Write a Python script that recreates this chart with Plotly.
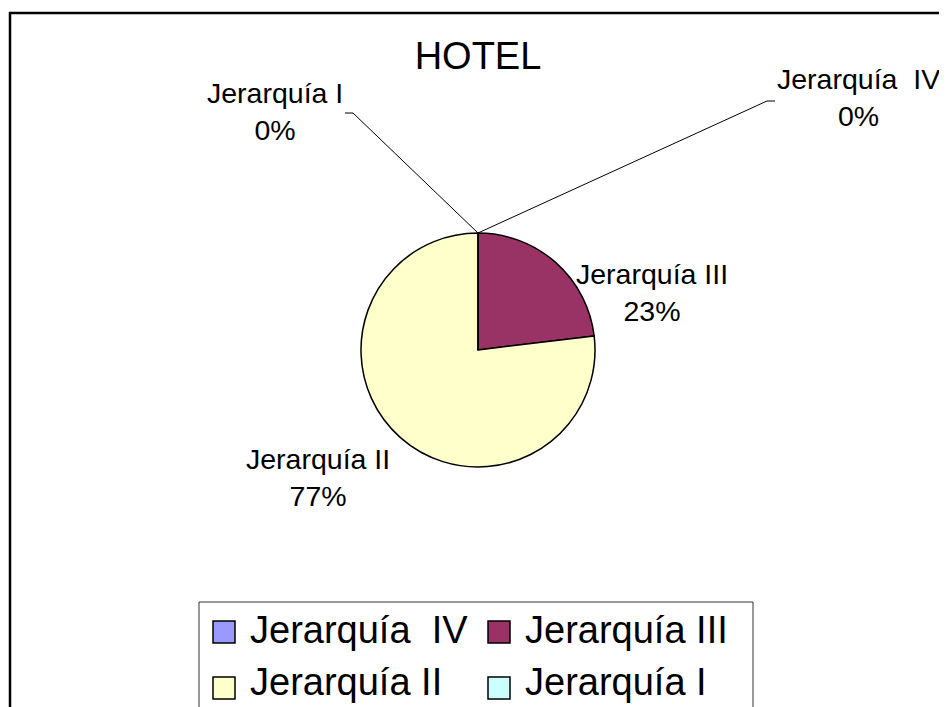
import plotly.graph_objects as go

# Data
labels = ["Jerarquía  IV", "Jerarquía III", "Jerarquía II", "Jerarquía I"]
values = [0, 3, 10, 0]
colors = ["#9999FF", "#993366", "#FFFFCC", "#CCFFFF"]
title_text = "HOTEL"

W, H = 947, 707
OFF = 8  # page body margin
FONT = "Liberation Sans, Arial, sans-serif"


def px(x):
    return (x - OFF) / W


def py(y):
    return 1 - (y - OFF) / H


# pie geometry (pixels, page coords)
PIE_CX, PIE_CY, PIE_R = 478, 350, 117

total = sum(values)
pcts = [round(100 * v / total) for v in values]

fig = go.Figure()
fig.add_trace(go.Pie(
    labels=labels,
    values=values,
    sort=False,
    direction="clockwise",
    rotation=0,
    marker=dict(colors=colors, line=dict(color="black", width=1.5)),
    textinfo="none",
    hoverinfo="skip",
    showlegend=False,
    domain=dict(
        x=[px(PIE_CX - PIE_R), px(PIE_CX + PIE_R)],
        y=[py(PIE_CY + PIE_R), py(PIE_CY - PIE_R)],
    ),
))

# data label positions (centres of each two-line block)
label_pos = {
    "Jerarquía  IV": (858, 97),
    "Jerarquía III": (652, 292),
    "Jerarquía II": (318, 477),
    "Jerarquía I": (275, 112),
}

annotations = []
for lab, pct in zip(labels, pcts):
    x, y = label_pos[lab]
    annotations.append(dict(
        text=f"{lab}<br>{pct}%",
        x=px(x), y=py(y), xref="paper", yref="paper",
        xanchor="center", yanchor="middle", showarrow=False,
        font=dict(family=FONT, size=28.5, color="black"),
    ))

# leader lines for the 0% slices, from the top of the pie
top_x, top_y = PIE_CX, PIE_CY - PIE_R
leaders = [
    [(top_x, top_y), (767, 101), (775, 101)],
    [(top_x, top_y), (353, 113), (345, 113)],
]
shapes = []
for pts in leaders:
    path = "M " + " L ".join(f"{px(a)},{py(b)}" for a, b in pts)
    shapes.append(dict(type="path", path=path, xref="paper", yref="paper",
                       line=dict(color="black", width=1)))

# outer chart frame
shapes.append(dict(type="rect", xref="paper", yref="paper",
                   x0=px(10), x1=px(945), y0=py(725), y1=py(13),
                   line=dict(color="black", width=2.5)))

# legend box
shapes.append(dict(type="rect", xref="paper", yref="paper",
                   x0=px(199), x1=px(753), y0=py(725), y1=py(602),
                   line=dict(color="#333333", width=1)))

# legend entries: 2 columns x 2 rows
col_x = [213, 488]
row_y = [632, 688]
text_y = [630, 682]
sq = 22
for i, (lab, col) in enumerate(zip(labels, colors)):
    cx = col_x[i % 2]
    cy = row_y[i // 2]
    shapes.append(dict(type="rect", xref="paper", yref="paper",
                       x0=px(cx), x1=px(cx + sq),
                       y0=py(cy + sq / 2), y1=py(cy - sq / 2),
                       fillcolor=col, line=dict(color="black", width=1.5)))
    annotations.append(dict(
        text=lab, x=px(cx + 35), y=py(text_y[i // 2]), xref="paper", yref="paper",
        xanchor="left", yanchor="middle", showarrow=False,
        font=dict(family=FONT, size=38, color="black"),
    ))

fig.update_layout(
    width=W, height=H,
    margin=dict(l=0, r=0, t=0, b=0),
    paper_bgcolor="white",
    plot_bgcolor="white",
    title=dict(
        text=title_text,
        x=px(478), y=py(56), xanchor="center", yanchor="middle",
        font=dict(family=FONT, size=38, color="black"),
    ),
    annotations=annotations,
    shapes=shapes,
)

fig.write_html("out.html")
